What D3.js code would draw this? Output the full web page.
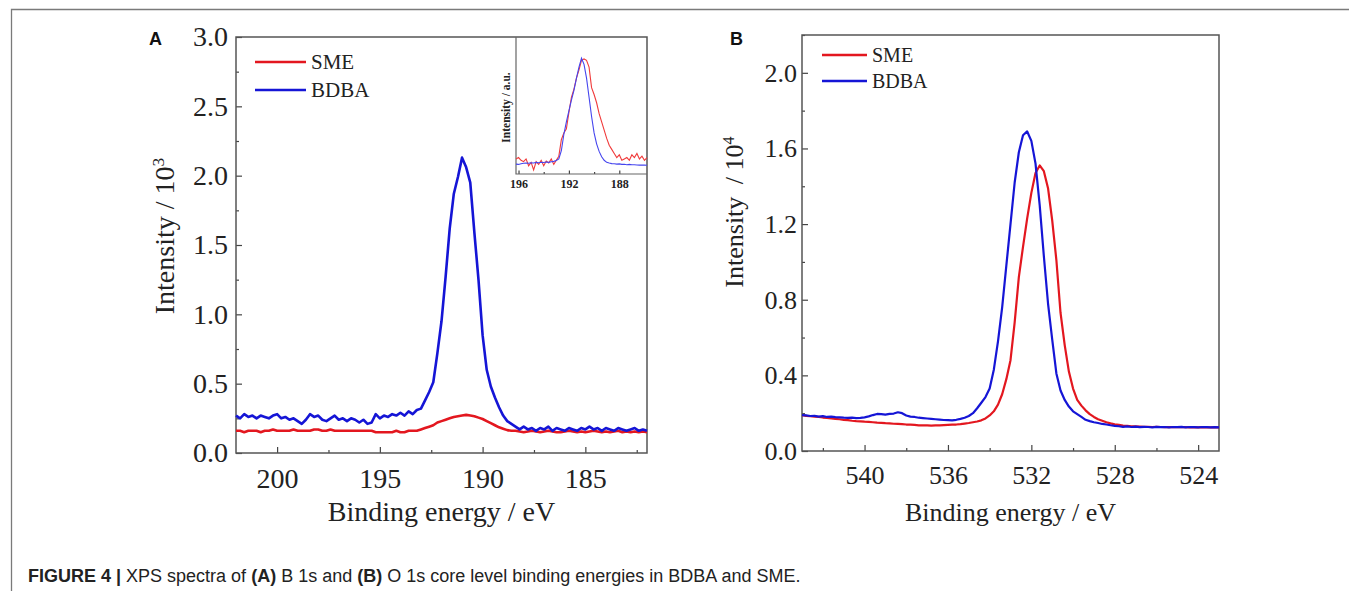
<!DOCTYPE html>
<html>
<head>
<meta charset="utf-8">
<script src="https://cdn.jsdelivr.net/npm/d3@7"></script>
<style>
  html, body { margin: 0; padding: 0; background: #fff; }
  svg { display: block; }
</style>
</head>
<body>
<script>
// ---------- B 1s spectra (panel A), 202.0 -> 182.0 eV in 0.2 eV steps ----------
const b1sStart = 202.0, b1sStep = 0.2;
const b1sBDBA = [
  0.27,0.25,0.28,0.26,0.27,0.25,0.27,0.26,0.25,0.27,
  0.28,0.25,0.26,0.24,0.25,0.23,0.21,0.24,0.28,0.26,
  0.27,0.24,0.23,0.25,0.27,0.24,0.25,0.23,0.25,0.24,
  0.22,0.24,0.21,0.22,0.28,0.25,0.27,0.26,0.28,0.27,
  0.29,0.27,0.30,0.28,0.31,
  0.32,0.38,0.44,0.51,0.72,0.95,1.27,1.62,1.87,1.99,
  2.13,2.06,1.95,1.59,1.25,0.85,0.60,0.48,0.40,0.33,
  0.27,0.23,0.21,
  0.19,0.17,0.19,0.17,0.18,0.16,0.18,0.17,0.19,0.16,
  0.18,0.17,0.16,0.18,0.17,0.16,0.18,0.17,0.19,0.17,
  0.18,0.16,0.18,0.17,0.16,0.18,0.17,0.16,0.17,0.18,
  0.16,0.17,0.16
];
const b1sSME = [
  0.16,0.16,0.15,0.16,0.16,0.16,0.15,0.16,0.16,0.17,
  0.16,0.16,0.16,0.16,0.17,0.16,0.16,0.16,0.16,0.17,
  0.17,0.16,0.16,0.17,0.16,0.16,0.16,0.16,0.16,0.16,
  0.16,0.16,0.16,0.16,0.15,0.15,0.15,0.15,0.15,0.16,
  0.15,0.15,0.16,0.16,0.16,
  0.17,0.18,0.19,0.20,0.22,0.23,0.24,0.25,0.26,0.265,
  0.27,0.275,0.27,0.265,0.255,0.245,0.23,0.215,0.20,0.185,
  0.175,0.165,0.16,
  0.16,0.155,0.15,0.155,0.16,0.155,0.15,0.155,0.16,0.155,
  0.15,0.15,0.155,0.16,0.155,0.15,0.155,0.15,0.155,0.16,
  0.155,0.15,0.155,0.15,0.155,0.16,0.15,0.155,0.15,0.155,
  0.15,0.155,0.15
];

// ---------- normalised B 1s inset, 196.2 -> 185.8 eV in 0.2 eV steps ----------
const insetStart = 196.2, insetStep = 0.2;
const insetBDBA = [
  0.072,0.070,0.075,0.078,0.080,0.078,0.082,0.080,0.085,0.082,
  0.086,0.084,0.088,0.085,0.090,0.092,0.098,0.110,0.170,0.290,
  0.380,0.460,0.540,0.610,0.700,0.780,0.845,0.800,0.700,0.560,
  0.420,0.300,0.220,0.165,0.126,0.100,0.085,0.080,0.076,0.075,
  0.072,0.074,0.070,0.071,0.068,0.070,0.067,0.068,0.066,0.065,
  0.066,0.065,0.064
];
const insetSME = [
  0.110,0.120,0.100,0.090,0.110,0.060,0.085,0.030,0.090,0.070,
  0.100,0.060,0.095,0.080,0.110,0.070,0.100,0.130,0.250,0.300,
  0.330,0.450,0.560,0.620,0.700,0.760,0.830,0.840,0.830,0.780,
  0.630,0.580,0.520,0.440,0.380,0.320,0.260,0.210,0.180,0.150,
  0.120,0.140,0.100,0.110,0.120,0.100,0.140,0.120,0.150,0.110,
  0.130,0.100,0.120
];

// ---------- O 1s spectra (panel B), 543.0 -> 523.0 eV in 0.2 eV steps ----------
const o1sStart = 543.0, o1sStep = 0.2;
const o1sBDBA = [
  0.190,0.188,0.185,0.186,0.182,0.184,0.180,0.182,0.179,0.178,
  0.176,0.175,0.176,0.174,0.175,0.178,0.183,0.190,0.196,0.195,
  0.192,0.196,0.198,0.205,0.200,0.188,0.182,0.180,0.176,0.174,
  0.172,0.170,0.168,0.166,0.164,0.163,0.162,0.165,0.170,0.176,
  0.185,0.200,0.226,0.255,0.285,0.330,0.430,0.580,0.760,0.980,
  1.200,1.420,1.580,1.670,1.690,1.640,1.520,1.300,1.030,0.780,
  0.590,0.410,0.320,0.270,0.235,0.210,0.195,0.180,0.165,0.158,
  0.152,0.148,0.143,0.140,0.136,0.133,0.131,0.128,0.130,0.127,
  0.129,0.126,0.128,0.127,0.125,0.128,0.126,0.127,0.125,0.127,
  0.126,0.128,0.125,0.127,0.126,0.125,0.127,0.126,0.125,0.126,
  0.125
];
const o1sSME = [
  0.190,0.186,0.184,0.181,0.180,0.177,0.175,0.172,0.170,0.168,
  0.165,0.163,0.160,0.158,0.157,0.155,0.154,0.152,0.150,0.149,
  0.147,0.146,0.144,0.143,0.142,0.140,0.139,0.138,0.136,0.135,
  0.135,0.134,0.135,0.136,0.137,0.138,0.139,0.140,0.142,0.145,
  0.148,0.152,0.156,0.162,0.172,0.188,0.210,0.245,0.300,0.380,
  0.480,0.680,0.920,1.080,1.230,1.365,1.470,1.510,1.480,1.390,
  1.220,1.010,0.730,0.560,0.420,0.330,0.270,0.240,0.215,0.195,
  0.180,0.168,0.160,0.152,0.146,0.141,0.138,0.135,0.133,0.131,
  0.130,0.129,0.128,0.128,0.127,0.128,0.127,0.126,0.127,0.126,
  0.127,0.126,0.126,0.125,0.126,0.125,0.126,0.125,0.125,0.125,
  0.125
];

// ---------- axis ticks ----------
const b1sTicksX = [200, 195, 190, 185];
const b1sMinorX = [197.5, 192.5, 187.5, 182.5];
const b1sTicksY = [0, 0.5, 1.0, 1.5, 2.0, 2.5, 3.0];
const b1sMinorY = [0.25, 0.75, 1.25, 1.75, 2.25, 2.75];
const insetTicksX = [196, 192, 188];
const insetMinorX = [194, 190];
const o1sTicksX = [540, 536, 532, 528, 524];
const o1sMinorX = [542, 538, 534, 530, 526];
const o1sTicksY = [0, 0.4, 0.8, 1.2, 1.6, 2.0];
const o1sMinorY = [0.2, 0.6, 1.0, 1.4, 1.8, 2.2];

const seriesNames = ["SME", "BDBA"];
const RED = "#e3171f", BLUE = "#1515d6";
const SERIF = '"Liberation Serif","Times New Roman",serif';
const SANS = '"Liberation Sans",Arial,Helvetica,sans-serif';

const svg = d3.select("body").append("svg")
  .attr("width", 1349).attr("height", 591)
  .style("background", "#fff");

// figure border (open on the right and bottom)
svg.append("path")
  .attr("d", "M11.5,591 V9.5 H1349")
  .attr("fill", "none").attr("stroke", "#7a7a7a").attr("stroke-width", 1.3);

function styleAxis(sel, fontSize, fontWeight) {
  sel.select(".domain").remove();
  sel.attr("font-family", SERIF).attr("font-size", fontSize)
     .attr("font-weight", fontWeight || "normal");
  sel.selectAll(".tick line").attr("stroke", "#444").attr("stroke-width", 1.2);
  sel.selectAll(".tick text").attr("fill", "#222");
}

function drawPanel(cfg) {
  const g = svg.append("g");
  const x = d3.scaleLinear().domain(cfg.xDomain).range([cfg.left, cfg.right]);
  const y = d3.scaleLinear().domain(cfg.yDomain).range([cfg.bottom, cfg.top]);

  // minor ticks (inward)
  g.append("g").attr("transform", `translate(0,${cfg.bottom})`)
    .call(d3.axisBottom(x).tickValues(cfg.minorX).tickSize(-3).tickFormat(""))
    .call(s => styleAxis(s, cfg.tickFont));
  g.append("g").attr("transform", `translate(${cfg.left},0)`)
    .call(d3.axisLeft(y).tickValues(cfg.minorY).tickSize(-3).tickFormat(""))
    .call(s => styleAxis(s, cfg.tickFont));

  // major ticks with labels
  g.append("g").attr("transform", `translate(0,${cfg.bottom})`)
    .call(d3.axisBottom(x).tickValues(cfg.ticksX).tickSize(-6)
      .tickPadding(cfg.xPad).tickFormat(d3.format("d")))
    .call(s => styleAxis(s, cfg.tickFont));
  g.append("g").attr("transform", `translate(${cfg.left},0)`)
    .call(d3.axisLeft(y).tickValues(cfg.ticksY).tickSize(-6)
      .tickPadding(cfg.yPad).tickFormat(d3.format(cfg.yFormat)))
    .call(s => styleAxis(s, cfg.tickFont));

  // frame
  g.append("rect")
    .attr("x", cfg.left).attr("y", cfg.top)
    .attr("width", cfg.right - cfg.left).attr("height", cfg.bottom - cfg.top)
    .attr("fill", "none").attr("stroke", "#555").attr("stroke-width", 1.5);

  // spectra
  const line = (start, step) => d3.line()
    .x((d, i) => x(start - i * step))
    .y(d => y(d));
  cfg.series.forEach(s => {
    g.append("path").datum(s.values)
      .attr("d", line(cfg.start, cfg.step))
      .attr("fill", "none").attr("stroke", s.color)
      .attr("stroke-width", cfg.lineWidth).attr("stroke-linejoin", "round");
  });

  // legend
  cfg.series.forEach((s, i) => {
    const ly = cfg.legend.y + i * cfg.legend.gap;
    g.append("line")
      .attr("x1", cfg.legend.x).attr("x2", cfg.legend.x + cfg.legend.len)
      .attr("y1", ly).attr("y2", ly)
      .attr("stroke", s.color).attr("stroke-width", 2.4);
    g.append("text")
      .attr("x", cfg.legend.x + cfg.legend.len + 5).attr("y", ly + cfg.legend.font * 0.34)
      .attr("font-family", SERIF).attr("font-size", cfg.legend.font).attr("fill", "#222")
      .text(s.name);
  });

  // axis titles
  g.append("text")
    .attr("x", (cfg.left + cfg.right) / 2).attr("y", cfg.xTitleY)
    .attr("text-anchor", "middle")
    .attr("font-family", SERIF).attr("font-size", cfg.titleFont).attr("fill", "#222")
    .text("Binding energy / eV");
  const yt = g.append("text")
    .attr("transform", `translate(${cfg.yTitleX},${cfg.yTitleY}) rotate(-90)`)
    .attr("text-anchor", "middle")
    .attr("font-family", SERIF).attr("font-size", cfg.titleFont).attr("fill", "#222");
  yt.append("tspan").text("Intensity");
  yt.append("tspan").attr("dx", cfg.yTitleGap).text(" / 10");
  yt.append("tspan").attr("dy", "-0.55em").attr("font-size", cfg.titleFont * 0.62).text(cfg.exponent);

  // panel letter
  g.append("text")
    .attr("x", cfg.letterX).attr("y", cfg.letterY)
    .attr("font-family", SANS).attr("font-weight", "bold").attr("font-size", 18).attr("fill", "#111")
    .text(cfg.letter);

  return { g, x, y };
}

// ----- panel A: B 1s -----
const panelA = drawPanel({
  left: 236, right: 647, top: 37, bottom: 453,
  xDomain: [202, 182], yDomain: [0, 3],
  ticksX: b1sTicksX, minorX: b1sMinorX, ticksY: b1sTicksY, minorY: b1sMinorY,
  yFormat: ".1f", tickFont: 28, xPad: 15, yPad: 8,
  start: b1sStart, step: b1sStep, lineWidth: 2.6,
  series: [
    { name: seriesNames[0], values: b1sSME, color: RED },
    { name: seriesNames[1], values: b1sBDBA, color: BLUE }
  ],
  legend: { x: 255, y: 62, gap: 28, len: 51, font: 21 },
  titleFont: 28, xTitleY: 521, yTitleX: 174, yTitleY: 236, yTitleGap: 0, exponent: "3",
  letter: "A", letterX: 149, letterY: 45
});

// inset of panel A: normalised B 1s peaks
(function drawInset() {
  const L = 516, R = 647, T = 37, B = 174;
  const g = svg.append("g");
  const x = d3.scaleLinear().domain([196.2, 185.8]).range([L, R]);
  const y = d3.scaleLinear().domain([0, 1]).range([B, T]);

  g.append("g").attr("transform", `translate(0,${B})`)
    .call(d3.axisBottom(x).tickValues(insetMinorX).tickSize(-2).tickFormat(""))
    .call(s => styleAxis(s, 12, "bold"));
  g.append("g").attr("transform", `translate(0,${B})`)
    .call(d3.axisBottom(x).tickValues(insetTicksX).tickSize(-3.5).tickPadding(5).tickFormat(d3.format("d")))
    .call(s => styleAxis(s, 12, "bold"));

  g.append("path")
    .attr("d", `M${L},${T} V${B} H${R}`)
    .attr("fill", "none").attr("stroke", "#666").attr("stroke-width", 1.2);

  const line = d3.line().x((d, i) => x(insetStart - i * insetStep)).y(d => y(d));
  g.append("path").datum(insetSME).attr("d", line)
    .attr("fill", "none").attr("stroke", "#f03a3a").attr("stroke-width", 1.1);
  g.append("path").datum(insetBDBA).attr("d", line)
    .attr("fill", "none").attr("stroke", "#4545ee").attr("stroke-width", 1.1);

  g.append("text")
    .attr("transform", `translate(${L - 6},${(T + B) / 2 + 2}) rotate(-90)`)
    .attr("text-anchor", "middle")
    .attr("font-family", SERIF).attr("font-weight", "bold").attr("font-size", 11.5).attr("fill", "#222")
    .text("Intensity / a.u.");
})();

// ----- panel B: O 1s -----
const panelB = drawPanel({
  left: 802, right: 1219, top: 35, bottom: 451,
  xDomain: [543, 523], yDomain: [0, 2.2],
  ticksX: o1sTicksX, minorX: o1sMinorX, ticksY: o1sTicksY, minorY: o1sMinorY,
  yFormat: ".1f", tickFont: 26, xPad: 15, yPad: 5,
  start: o1sStart, step: o1sStep, lineWidth: 2.2,
  series: [
    { name: seriesNames[0], values: o1sSME, color: RED },
    { name: seriesNames[1], values: o1sBDBA, color: BLUE }
  ],
  legend: { x: 822, y: 55, gap: 26, len: 45, font: 20 },
  titleFont: 26, xTitleY: 521, yTitleX: 743, yTitleY: 212, yTitleGap: 6, exponent: "4",
  letter: "B", letterX: 730, letterY: 45
});

// ----- caption -----
(function drawCaption() {
  const cap = svg.append("text")
    .attr("font-family", SANS).attr("font-size", 19).attr("fill", "#222")
    .style("white-space", "pre");
  const parts = [
    ["FIGURE 4 |", true], [" XPS spectra of ", false], ["(A)", true],
    [" B 1s and ", false], ["(B)", true],
    [" O 1s core level binding energies in BDBA and SME.", false]
  ];
  parts.forEach(([t, b]) => cap.append("tspan").attr("font-weight", b ? "bold" : "normal").text(t));
  const w = cap.node().getComputedTextLength();
  const targetW = 773;
  cap.attr("transform", `translate(28,582) scale(${targetW / w},1)`);
})();
</script>
</body>
</html>
